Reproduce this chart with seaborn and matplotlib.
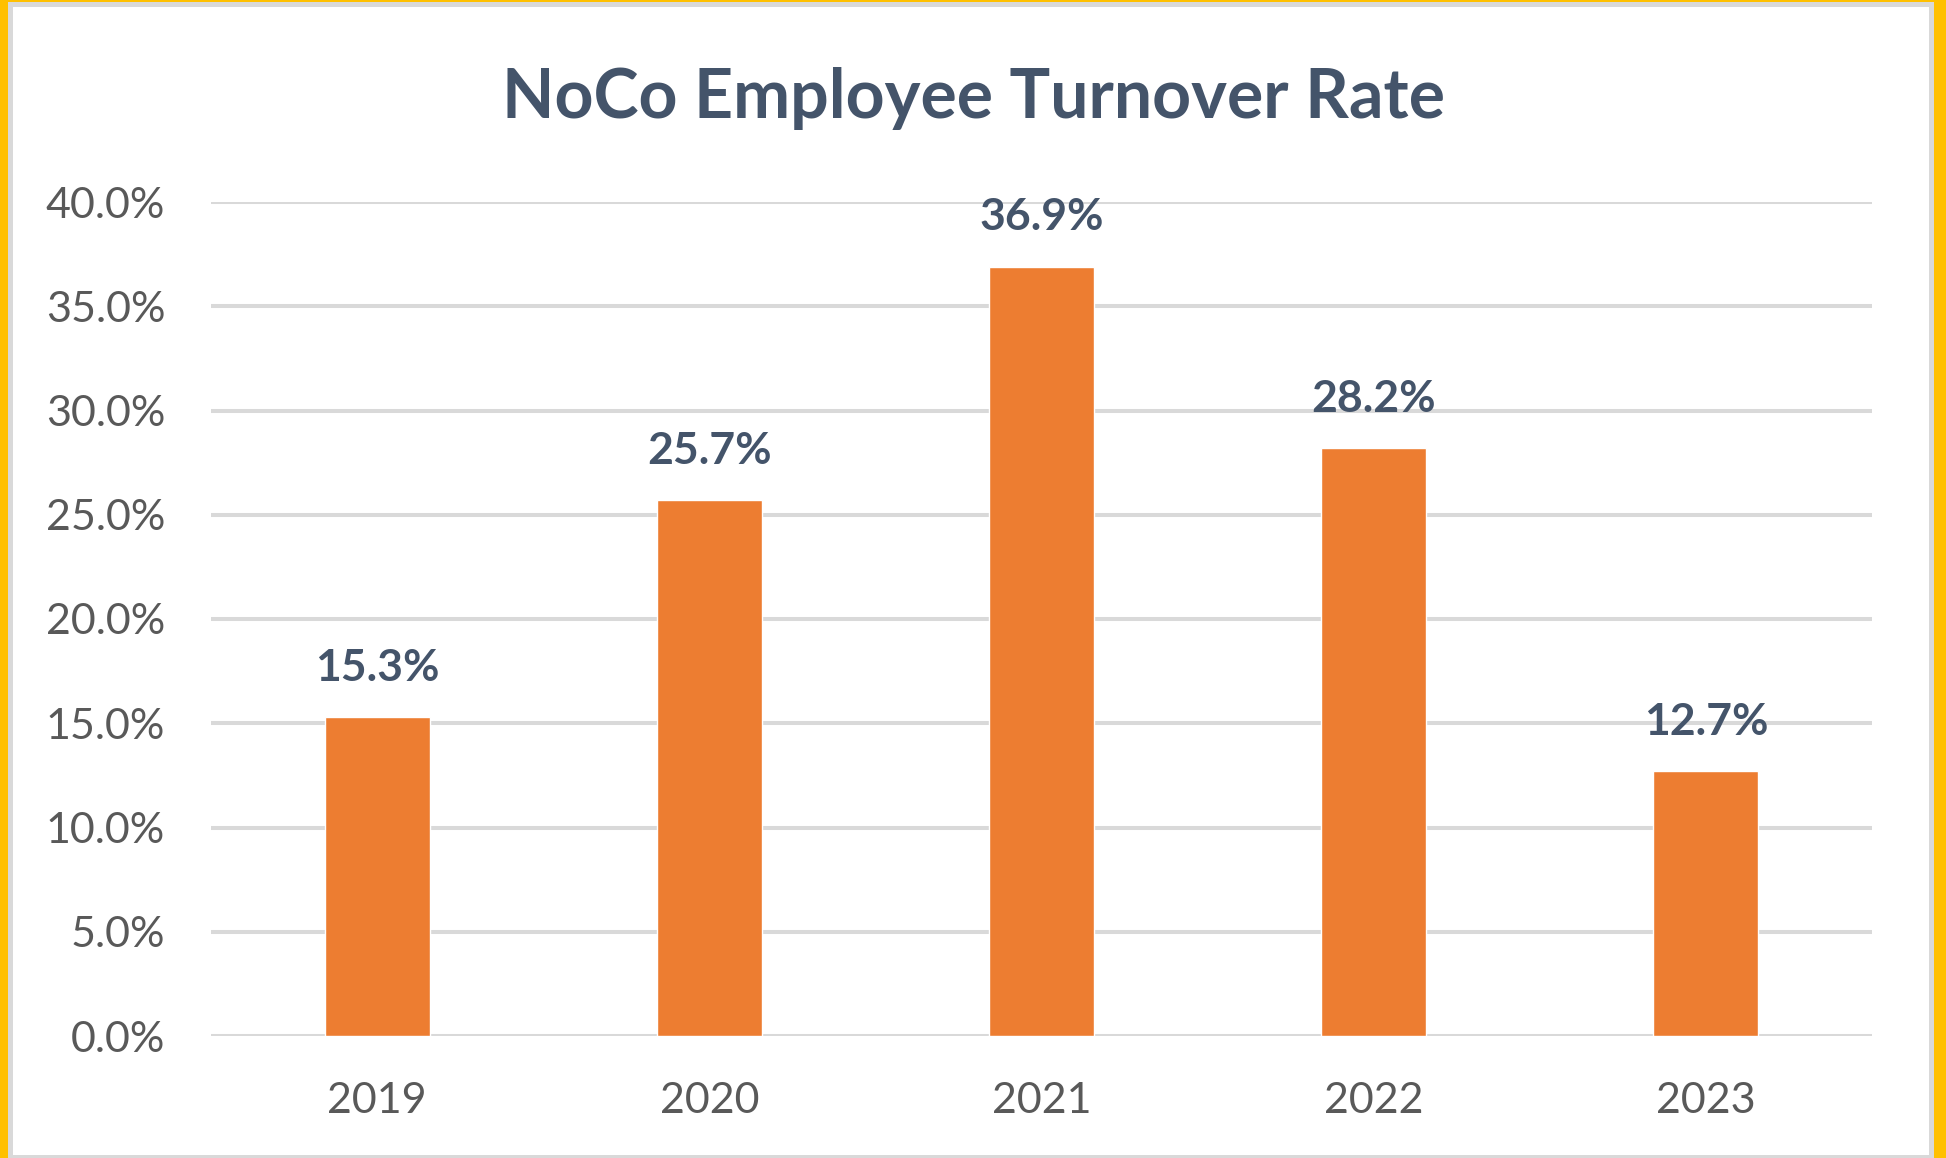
import matplotlib
matplotlib.use("Agg")
import matplotlib.pyplot as plt
import matplotlib.patches as mpatches
from matplotlib.ticker import FuncFormatter
import seaborn as sns
import pandas as pd

years = ["2019", "2020", "2021", "2022", "2023"]
turnover_pct = [15.3, 25.7, 36.9, 28.2, 12.7]
y_ticks = [0, 5, 10, 15, 20, 25, 30, 35, 40]
title = "NoCo Employee Turnover Rate"

BAR = "#ED7D31"
SLATE = "#44546A"
GRID = "#D9D9D9"
TICK = "#595959"
YELLOW = "#FFC000"

sns.set_style("white")
plt.rcParams["font.family"] = ["Lato", "DejaVu Sans"]

df = pd.DataFrame({"year": years, "rate": turnover_pct})

W, H = 1946, 1158
fig = plt.figure(figsize=(W / 100, H / 100), dpi=100)
fig.patch.set_facecolor("white")

# Frame: yellow outer strips and gray inner border
def px_rect(x0, y0, x1, y1, color):
    fig.patches.append(mpatches.Rectangle((x0 / W, 1 - y1 / H), (x1 - x0) / W, (y1 - y0) / H,
                                          transform=fig.transFigure, color=color, zorder=0, lw=0))

px_rect(0, 0, 8, H, YELLOW)
px_rect(0, 0, W, 2, YELLOW)
px_rect(1934, 0, W, H, YELLOW)
px_rect(8, 2, 13, 1158, GRID)
px_rect(8, 2, 1934, 7, GRID)
px_rect(1929, 2, 1934, 1158, GRID)
px_rect(8, 1155, 1934, 1158, GRID)

ax = fig.add_axes([211 / W, 1 - 1036 / H, (1872 - 211) / W, (1036 - 202) / H])
ax.set_facecolor("none")

sns.barplot(data=df, x="year", y="rate", color=BAR, width=0.316, ax=ax,
            saturation=1, zorder=3)

ax.set_xlim(-0.5, len(years) - 0.5)
ax.set_ylim(0, 40)
ax.set_yticks(y_ticks)
ax.yaxis.set_major_formatter(FuncFormatter(lambda v, p: f"{v:.1f}%"))
ax.grid(axis="y", color=GRID, linewidth=2.9, zorder=0)
ax.grid(axis="x", visible=False)
ax.set_axisbelow(True)
for s in ax.spines.values():
    s.set_visible(False)
ax.tick_params(axis="both", length=0, labelsize=31, labelcolor=TICK)
ax.tick_params(axis="y", pad=33)
ax.tick_params(axis="x", pad=33)
ax.set_xlabel("")
ax.set_ylabel("")

for c in ax.containers:
    ax.bar_label(c, labels=[f"{v:.1f}%" for v in turnover_pct], padding=21,
                 fontsize=32, fontweight="bold", color=SLATE, clip_on=False)

fig.text(0.5, 1 - 99 / H, title, ha="center", va="center", fontsize=49,
         fontweight="bold", color=SLATE)

fig.savefig("out.png", dpi=100)
